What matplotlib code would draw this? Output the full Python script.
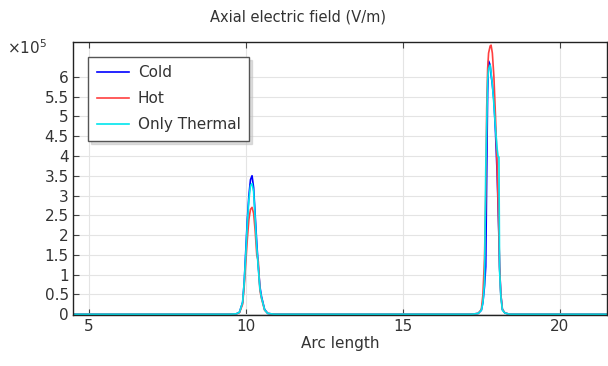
import matplotlib
matplotlib.use("Agg")
import matplotlib.pyplot as plt

# valores en unidades de 1e5 V/m
arc = [4.5, 9.5, 9.7, 9.8, 9.9, 9.95, 10.0, 10.05, 10.1, 10.15, 10.2, 10.25,
       10.3, 10.35, 10.4, 10.45, 10.5, 10.6, 10.7, 10.9,
       17.2, 17.4, 17.5, 17.55, 17.6, 17.64, 17.67, 17.7, 17.73, 17.78, 17.81,
       17.85, 17.9, 17.95, 18.0, 18.03, 18.06, 18.08, 18.12, 18.17, 18.25,
       18.4, 21.5]

cold = [0, 0, 0.01, 0.05, 0.3, 0.8, 1.6, 2.4, 3.0, 3.4, 3.5, 3.2,
        2.5, 1.8, 1.2, 0.7, 0.45, 0.12, 0.02, 0,
        0, 0.02, 0.1, 0.3, 0.7, 1.2, 3.5, 5.6, 6.4, 6.3, 6.05,
        5.8, 5.4, 4.6, 3.6, 2.8, 1.9, 1.2, 0.5, 0.12, 0.03,
        0, 0]

hot = [0, 0, 0.01, 0.04, 0.25, 0.7, 1.3, 1.9, 2.4, 2.65, 2.7, 2.55,
       2.1, 1.5, 1.33, 0.6, 0.4, 0.1, 0.02, 0,
       0, 0.02, 0.12, 0.5, 1.4, 3.0, 5.2, 6.2, 6.6, 6.78, 6.8,
       6.6, 6.0, 5.0, 3.8, 2.9, 2.0, 1.2, 0.5, 0.12, 0.03,
       0, 0]

thermal = [0, 0, 0.01, 0.05, 0.3, 0.8, 1.5, 2.3, 2.9, 3.25, 3.3, 3.1,
           2.4, 1.7, 1.15, 0.65, 0.42, 0.11, 0.02, 0,
           0, 0.02, 0.1, 0.3, 0.8, 3.67, 4.8, 5.9, 6.2, 6.3, 6.1,
           5.8, 5.3, 4.7, 4.2, 4.0, 3.97, 1.1, 0.45, 0.1, 0.03,
           0, 0]

xticks = [5, 10, 15, 20]
yticks = [i * 0.5 for i in range(13)]
ytick_labels = ["0", "0.5", "1", "1.5", "2", "2.5", "3", "3.5", "4",
                "4.5", "5", "5.5", "6"]

plt.rcParams["font.family"] = ["DejaVu Sans"]
txt = "#333333"

fig = plt.figure(figsize=(6.08, 3.66), dpi=100)
ax = fig.add_axes([73 / 608, 1 - 315 / 366, 534 / 608, 273 / 366])

ax.plot(arc, cold, color="#0000ff", lw=1.2, label="Cold")
ax.plot(arc, hot, color="#ff4040", lw=1.2, label="Hot")
ax.plot(arc, thermal, color="#00e5ee", lw=1.2, label="Only Thermal")

ax.set_xlim(4.5, 21.5)
ax.set_ylim(-0.02, 6.88)
ax.set_xticks(xticks)
ax.set_yticks(yticks)
ax.set_yticklabels(ytick_labels)
ax.grid(True, color="#e4e4e4", lw=0.8)
ax.set_axisbelow(True)
ax.tick_params(direction="in", top=True, right=True, length=4,
               color="#444444", labelsize=11, labelcolor=txt, pad=3)
for s in ax.spines.values():
    s.set_color("#222222")
    s.set_linewidth(1.0)

ax.set_xlabel("Arc length", fontsize=11, color=txt, labelpad=1)
fig.text(0.49, 0.953, "Axial electric field (V/m)", ha="center",
         va="center", fontsize=10.5, color=txt)
fig.text(0.012, 0.87, r"$\times10^5$", fontsize=11, color=txt,
         va="center")

leg = ax.legend(loc="upper left", bbox_to_anchor=(0.014, 0.973),
                fontsize=11, fancybox=False, shadow={"color": "0.75"},
                framealpha=1, handlelength=2.1, borderpad=0.55,
                labelspacing=0.72, handletextpad=0.6, labelcolor=txt)
leg.get_frame().set_edgecolor("#555555")
leg.get_frame().set_linewidth(1.0)

fig.savefig("out.png", dpi=100)
